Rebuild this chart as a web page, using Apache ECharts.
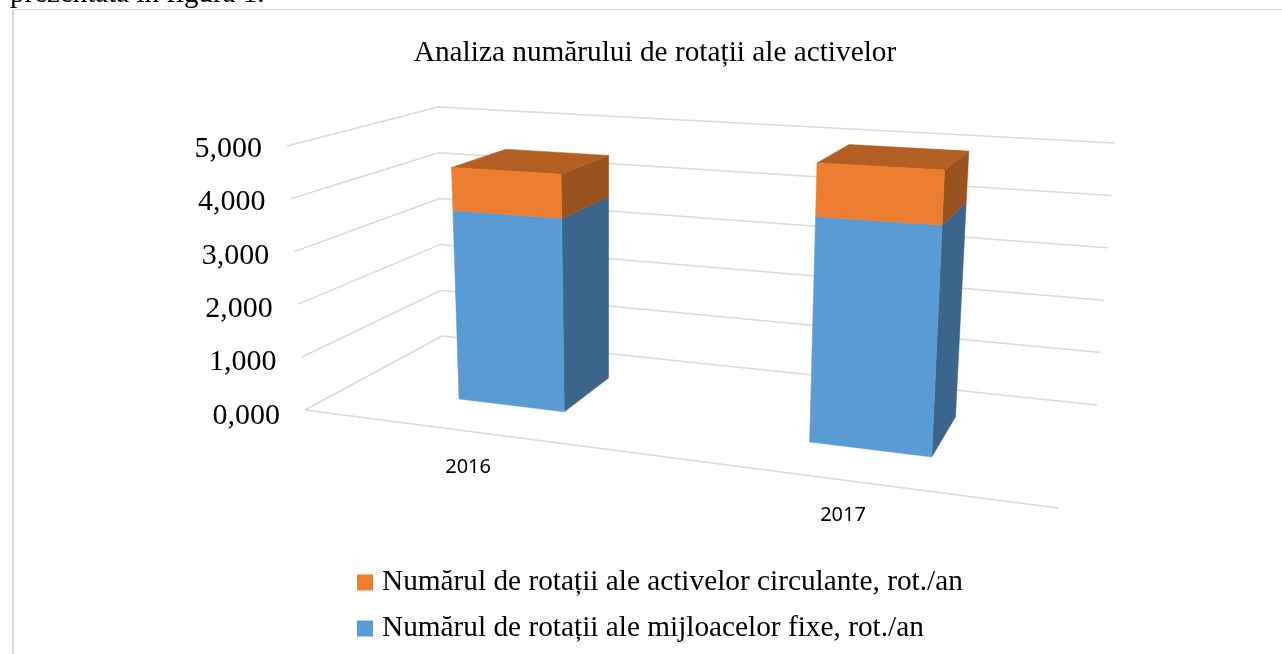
<!DOCTYPE html>
<html>
<head>
<meta charset="utf-8">
<style>html,body{margin:0;padding:0;background:#fff}#chart{width:1282px;height:654px}</style>
<script src="https://cdn.jsdelivr.net/npm/echarts@6/dist/echarts.min.js"></script>
</head>
<body>
<div id="chart"></div>
<script>
var years = ['2016', '2017'];
var fixe = [3.63, 3.99];
var circulante = [0.83, 0.95];
var ticks = [0, 1, 2, 3, 4, 5];
var numeFixe = 'Numărul de rotații ale mijloacelor fixe, rot./an';
var numeCirc = 'Numărul de rotații ale activelor circulante, rot./an';
var titlu = 'Analiza numărului de rotații ale activelor';

var serif = '"Liberation Serif", serif';

// box corners of the 3d plot on screen: floor / top, front / back, left / right
var box = {
    ffl: [305, 410], ffr: [1058, 508], fbl: [442, 336], fbr: [1097, 405],
    tfl: [287, 146], tfr: [1078, 190], tbl: [438, 107], tbr: [1115, 143]
};
var warp = 1.16; // right side of the box is nearer to the viewer
var depthFront = 0.33, depthBack = 0.74, barRatio = 0.316;

function lerp(a, b, t) {
    return [a[0] + (b[0] - a[0]) * t, a[1] + (b[1] - a[1]) * t];
}
// u along the categories, v up the value axis, d into the depth, all 0..1
function project(u, v, d) {
    var w = u / (u + (1 - u) * warp);
    var floor = lerp(lerp(box.ffl, box.ffr, w), lerp(box.fbl, box.fbr, w), d);
    var top = lerp(lerp(box.tfl, box.tfr, w), lerp(box.tbl, box.tbr, w), d);
    return lerp(floor, top, v);
}
// hidden grid coordinates -> 0..1
function norm(params, pt) {
    var c = params.coordSys;
    return [(pt[0] - c.x) / c.width, (c.y + c.height - pt[1]) / c.height];
}

function poly(points, color, z) {
    return {
        type: 'polygon',
        z2: z,
        shape: { points: points },
        style: { fill: color, stroke: color, lineWidth: 0.5 }
    };
}

function barItem(front, side, top) {
    return function (params, api) {
        var a = norm(params, api.coord([api.value(0), api.value(1)]));
        var b = norm(params, api.coord([api.value(0), api.value(2)]));
        var half = api.size([1, 0])[0] / params.coordSys.width * barRatio / 2;
        var l = a[0] - half, r = a[0] + half;
        var children = [
            poly([project(r, a[1], depthFront), project(r, a[1], depthBack), project(r, b[1], depthBack), project(r, b[1], depthFront)], side, 1)
        ];
        if (top) {
            children.push(poly([project(l, b[1], depthFront), project(r, b[1], depthFront), project(r, b[1], depthBack), project(l, b[1], depthBack)], top, 2));
        }
        children.push(poly([project(l, a[1], depthFront), project(r, a[1], depthFront), project(r, b[1], depthFront), project(l, b[1], depthFront)], front, 3));
        return { type: 'group', children: children };
    };
}

function gridItem(params, api) {
    var v = norm(params, api.coord([0, api.value(0)]))[1];
    var lineStyle = { stroke: '#d9d9d9', lineWidth: 1.5, fill: null };
    var start = project(0, v, 0);
    var pts = [start, project(0, v, 1), project(1, v, 1)];
    var children = [{ type: 'polyline', shape: { points: pts }, style: lineStyle }];
    if (api.value(0) === 0) {
        children.push({ type: 'line', shape: { x1: start[0], y1: start[1], x2: project(1, 0, 0)[0], y2: project(1, 0, 0)[1] }, style: lineStyle });
    }
    children.push({
        type: 'text',
        style: {
            x: start[0] - 25, y: start[1] + 6 - 0.6 * api.value(0),
            text: api.value(0).toFixed(3).replace('.', ','),
            align: 'right', verticalAlign: 'middle',
            font: '30px ' + serif, fill: '#000'
        }
    });
    return { type: 'group', children: children };
}

function yearItem(params, api) {
    var n = norm(params, api.coord([api.value(0), 0]));
    var p = project(n[0], 0, 0);
    return {
        type: 'text',
        style: {
            x: p[0] - 5, y: p[1] + 35,
            text: years[api.value(0)],
            align: 'center', verticalAlign: 'middle',
            font: '20px "Noto Sans", sans-serif', fill: '#000'
        }
    };
}

var myChart = echarts.init(document.getElementById('chart'), null, { renderer: 'canvas' });

var option = {
    animation: false,
    backgroundColor: '#fff',
    title: {
        text: titlu,
        left: 650,
        top: 34,
        textAlign: 'center',
        textStyle: { fontFamily: serif, fontSize: 29.3, fontWeight: 'normal', color: '#000' }
    },
    legend: {
        data: [numeCirc, numeFixe],
        orient: 'vertical',
        left: 352,
        top: 563,
        icon: 'rect',
        itemWidth: 16,
        itemHeight: 16,
        itemGap: 17,
        textStyle: { fontFamily: serif, fontSize: 29.3, color: '#000', padding: [2, 0, 0, 4] }
    },
    grid: { left: 100, right: 100, top: 100, bottom: 100 },
    xAxis: { type: 'category', data: years, show: false },
    yAxis: { type: 'value', min: 0, max: 5, interval: 1, show: false },
    series: [
        {
            type: 'custom',
            silent: true,
            z: 1,
            clip: false,
            renderItem: gridItem,
            encode: { y: 0 },
            data: ticks.map(function (t) { return [t]; })
        },
        {
            type: 'custom',
            silent: true,
            z: 1,
            clip: false,
            renderItem: yearItem,
            encode: { x: 0 },
            data: years.map(function (y, i) { return [i]; })
        },
        {
            name: numeFixe,
            type: 'custom',
            z: 2,
            clip: false,
            itemStyle: { color: '#5B9BD5' },
            renderItem: barItem('#5B9BD5', '#3B658B', null),
            encode: { x: 0, y: [1, 2] },
            data: years.map(function (y, i) { return [i, 0, fixe[i]]; })
        },
        {
            name: numeCirc,
            type: 'custom',
            z: 3,
            clip: false,
            itemStyle: { color: '#ED7D31' },
            renderItem: barItem('#ED7D31', '#9A521E', '#B35E22'),
            encode: { x: 0, y: [1, 2] },
            data: years.map(function (y, i) { return [i, fixe[i], fixe[i] + circulante[i]]; })
        }
    ],
    graphic: [
        { type: 'text', z: 10, style: { x: 10, y: 9, text: 'prezentată în figura 1.', font: '29px ' + serif, fill: '#000', verticalAlign: 'bottom' } },
        { type: 'line', z: 12, shape: { x1: 13, y1: 9.5, x2: 1282, y2: 9.5 }, style: { stroke: '#d9d9d9', lineWidth: 1 } },
        { type: 'line', z: 12, shape: { x1: 13, y1: 10, x2: 13, y2: 654 }, style: { stroke: '#d9d9d9', lineWidth: 2 } }
    ]
};

myChart.setOption(option);
</script>
</body>
</html>
